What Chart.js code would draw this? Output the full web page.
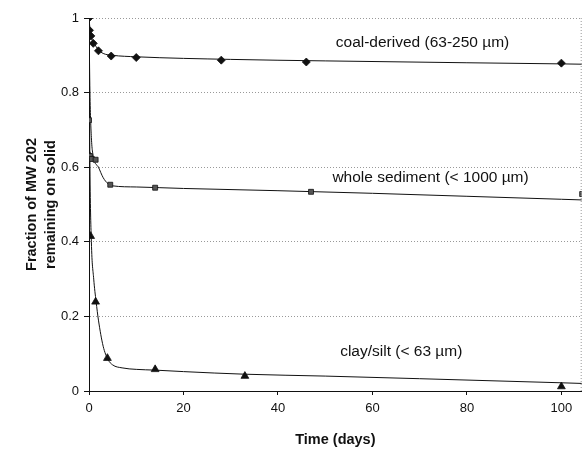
<!DOCTYPE html>
<html>
<head>
<meta charset="utf-8">
<script src="https://cdn.jsdelivr.net/npm/chart.js@4"></script>
<style>
  html, body { margin: 0; padding: 0; background: #fff; }
  #wrap { width: 587px; height: 449px; }
</style>
</head>
<body>
<div id="wrap"><canvas id="chart" width="587" height="449"></canvas></div>
<script>
// measured points (time in days, fraction remaining)
const coalDays  = [0, 0.1, 0.4, 0.9, 2, 4.7, 10, 28, 46, 100];
const coalFrac  = [1.0, 0.967, 0.952, 0.932, 0.912, 0.898, 0.894, 0.887, 0.882, 0.879];
const wholeDays = [0, 0.2, 0.6, 1.4, 4.5, 14, 47, 104.4];
const wholeFrac = [0.726, 0.63, 0.622, 0.62, 0.553, 0.545, 0.534, 0.528];
const clayDays  = [0, 0.35, 1.4, 3.9, 14, 33, 100];
const clayFrac  = [0.633, 0.415, 0.239, 0.088, 0.058, 0.04, 0.012];

// fitted curves
const coalFitDays  = [0, 0.3, 1, 2, 3, 5, 10, 30, 50, 80, 100, 105];
const coalFitFrac  = [1.0, 0.96, 0.935, 0.915, 0.905, 0.9, 0.896, 0.889, 0.885, 0.88, 0.877, 0.876];
const wholeFitDays = [0, 0.2, 0.5, 1, 2, 3, 4, 5, 10, 20, 40, 60, 80, 100, 105];
const wholeFitFrac = [1.0, 0.8, 0.68, 0.625, 0.6, 0.572, 0.556, 0.55, 0.547, 0.543, 0.537, 0.53, 0.522, 0.514, 0.512];
const clayFitDays  = [0, 0.2, 0.5, 1, 1.5, 2, 3, 4, 5, 7, 10, 14, 20, 33, 50, 70, 100, 105];
const clayFitFrac  = [1.0, 0.6, 0.4, 0.3, 0.24, 0.19, 0.12, 0.085, 0.07, 0.062, 0.058, 0.056, 0.052, 0.045, 0.04, 0.033, 0.022, 0.02];

const seriesLabels = ['coal-derived (63-250 \u00b5m)', 'whole sediment (< 1000 \u00b5m)', 'clay/silt (< 63 \u00b5m)'];
const xTicks = [0, 20, 40, 60, 80, 100];
const yTicks = [0, 0.2, 0.4, 0.6, 0.8, 1];

const FONT = 'Liberation Sans, Arial, sans-serif';
const INK = '#111';

const pts = (xs, ys) => xs.map((x, i) => ({ x, y: ys[i] }));

function fitLine(xs, ys) {
  return {
    data: pts(xs, ys),
    showLine: true,
    borderColor: INK,
    borderWidth: 1,
    pointRadius: 0,
    cubicInterpolationMode: 'monotone',
    order: 2,
  };
}

function markers(xs, ys, style, radius, fill) {
  return {
    data: pts(xs, ys),
    showLine: false,
    pointStyle: style,
    pointRadius: radius,
    backgroundColor: fill,
    borderColor: INK,
    borderWidth: 0.8,
    order: 1,
  };
}

// series labels + dotted right border
const annotate = {
  id: 'annotate',
  afterDatasetsDraw(chart) {
    const { ctx, chartArea, scales: { x, y } } = chart;
    ctx.save();
    ctx.strokeStyle = '#999';
    ctx.lineWidth = 1;
    ctx.setLineDash([1, 2]);
    ctx.beginPath();
    ctx.moveTo(chartArea.right - 0.5, chartArea.top);
    ctx.lineTo(chartArea.right - 0.5, chartArea.bottom);
    ctx.stroke();
    ctx.setLineDash([]);
    ctx.fillStyle = INK;
    ctx.font = '15.5px ' + FONT;
    ctx.textAlign = 'center';
    ctx.textBaseline = 'middle';
    ctx.fillText(seriesLabels[0], x.getPixelForValue(70.6), y.getPixelForValue(0.933));
    ctx.fillText(seriesLabels[1], x.getPixelForValue(72.3), y.getPixelForValue(0.571));
    ctx.fillText(seriesLabels[2], x.getPixelForValue(66.1), y.getPixelForValue(0.105));
    ctx.restore();
  },
};

new Chart(document.getElementById('chart'), {
  type: 'scatter',
  data: {
    datasets: [
      fitLine(coalFitDays, coalFitFrac),
      fitLine(wholeFitDays, wholeFitFrac),
      fitLine(clayFitDays, clayFitFrac),
      markers(coalDays, coalFrac, 'rectRot', 4, INK),
      markers(wholeDays, wholeFrac, 'rect', 3.5, '#555'),
      markers(clayDays, clayFrac, 'triangle', 4.5, INK),
    ],
  },
  options: {
    responsive: false,
    animation: false,
    layout: { padding: { top: 18, right: 2, left: 23, bottom: 0 } },
    plugins: {
      legend: { display: false },
      tooltip: { enabled: false },
    },
    scales: {
      x: {
        type: 'linear',
        min: 0,
        max: 104.3,
        afterBuildTicks: s => { s.ticks = xTicks.map(v => ({ value: v })); },
        afterFit: s => { s.height = 58; },
        ticks: { color: INK, font: { family: FONT, size: 13 }, padding: 6 },
        grid: { drawOnChartArea: false, drawTicks: true, tickLength: 4, tickColor: INK },
        border: { color: INK, width: 1 },
        title: {
          display: true,
          text: 'Time (days)',
          color: INK,
          font: { family: FONT, size: 14.5, weight: 'bold' },
          padding: { top: 2, bottom: 0 },
        },
      },
      y: {
        min: 0,
        max: 1,
        afterBuildTicks: s => { s.ticks = yTicks.map(v => ({ value: v })); },
        afterFit: s => { s.width = 66; },
        ticks: {
          color: INK,
          font: { family: FONT, size: 13 },
          padding: 5,
          callback: v => String(v),
        },
        grid: {
          color: ctx => (ctx.tick && ctx.tick.value === 0 ? 'rgba(0,0,0,0)' : '#999'),
          lineWidth: 1,
          tickLength: 5,
          tickColor: INK,
        },
        border: { color: INK, width: 1, dash: [1, 2] },
        title: {
          display: true,
          text: ['Fraction of MW 202', 'remaining on solid'],
          color: INK,
          font: { family: FONT, size: 14.5, weight: 'bold', lineHeight: 1.3 },
          padding: { top: 0, bottom: 0 },
        },
      },
    },
  },
  plugins: [annotate],
});
</script>
</body>
</html>
